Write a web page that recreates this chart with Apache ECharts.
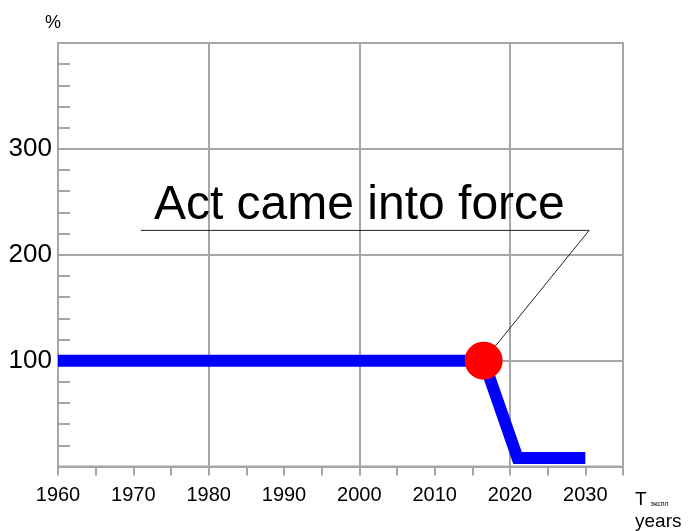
<!DOCTYPE html>
<html>
<head>
<meta charset="utf-8">
<script src="https://cdn.jsdelivr.net/npm/echarts@6/dist/echarts.min.js"></script>
<style>
html,body{margin:0;padding:0;background:#fff;}
#chart{width:688px;height:531px;}
</style>
</head>
<body>
<div id="chart"></div>
<script>
// ---- data ----
var years = [1960, 2016.5, 2021, 2030];
var percent = [100, 100, 8, 8];
var actYear = 2016.5;
var actValue = 100;
var annotationText = 'Act came into force';
var leaderX = [1971, 2030.5, 2016.5];
var leaderY = [223, 223, 100];
var textAnchor = [2000, 223];
var xTickLabels = [1960, 1970, 1980, 1990, 2000, 2010, 2020, 2030];
var yTickLabels = [100, 200, 300];

var FONT = '"Liberation Sans", Arial, sans-serif';
var GRID_COLOR = '#a6a6a6';

function zip(a, b) { return a.map(function (v, i) { return [v, b[i]]; }); }

var chart = echarts.init(document.getElementById('chart'), null, { renderer: 'canvas' });
chart.setOption({
  animation: false,
  backgroundColor: '#ffffff',
  grid: {
    left: 58, right: 65, top: 43, bottom: 63,
    show: true, borderColor: GRID_COLOR, borderWidth: 2, backgroundColor: 'transparent'
  },
  xAxis: [
    {
      type: 'value', min: 1960, max: 2035, interval: 5,
      axisLine: { show: true, onZero: false, lineStyle: { color: GRID_COLOR, width: 2 } },
      axisTick: { show: true, inside: false, length: 9, lineStyle: { color: GRID_COLOR, width: 2 } },
      splitLine: { show: false },
      axisLabel: {
        margin: 19, fontSize: 20, color: '#000', fontFamily: FONT,
        formatter: function (v) { return xTickLabels.indexOf(v) >= 0 ? String(v) : ''; }
      },
      name: '{t|T}{s|экспл}\n{y|years}',
      nameLocation: 'end', nameGap: 12,
      nameTextStyle: {
        verticalAlign: 'top', align: 'left', padding: [19, 0, 0, 0],
        rich: {
          t: { fontSize: 19, color: '#000', fontFamily: FONT, lineHeight: 24, verticalAlign: 'bottom' },
          s: { fontSize: 7, color: '#000', fontFamily: FONT, verticalAlign: 'bottom', padding: [0, 0, 2, 4] },
          y: { fontSize: 19, color: '#000', fontFamily: FONT, lineHeight: 24 }
        }
      }
    },
    {
      type: 'value', min: 1960, max: 2035, interval: 20,
      axisLine: { show: false }, axisTick: { show: false }, axisLabel: { show: false },
      splitLine: { show: true, lineStyle: { color: GRID_COLOR, width: 2 } }
    }
  ],
  yAxis: [
    {
      type: 'value', min: 0, max: 400, interval: 20,
      axisLine: { show: true, onZero: false, lineStyle: { color: GRID_COLOR, width: 2 } },
      axisTick: { show: true, inside: true, length: 12, lineStyle: { color: GRID_COLOR, width: 2 } },
      splitLine: { show: false },
      axisLabel: {
        margin: 6, fontSize: 26, color: '#000', fontFamily: FONT,
        formatter: function (v) { return yTickLabels.indexOf(v) >= 0 ? String(v) : ''; }
      },
      name: '%', nameLocation: 'end', nameGap: 11,
      nameTextStyle: { fontSize: 18, color: '#000', fontFamily: FONT, padding: [0, 10, 0, 0] }
    },
    {
      type: 'value', min: 0, max: 400, interval: 100,
      axisLine: { show: false }, axisTick: { show: false }, axisLabel: { show: false },
      splitLine: { show: true, lineStyle: { color: GRID_COLOR, width: 2 } }
    }
  ],
  series: [
    {
      type: 'line', name: 'leader', xAxisIndex: 0, yAxisIndex: 0, z: 3,
      data: zip(leaderX, leaderY), symbol: 'none', silent: true,
      lineStyle: { color: '#222', width: 1, opacity: 1 }
    },
    {
      type: 'line', name: 'share', xAxisIndex: 0, yAxisIndex: 0, z: 4,
      data: zip(years, percent), symbol: 'none',
      lineStyle: { color: '#0000ff', width: 12, join: 'miter', cap: 'butt', opacity: 1 }
    },
    {
      type: 'scatter', name: 'act', xAxisIndex: 0, yAxisIndex: 0, z: 5,
      data: [[actYear, actValue]], symbol: 'circle', symbolSize: 38,
      itemStyle: { color: '#ff0000', opacity: 1 }
    },
    {
      type: 'scatter', name: 'annotation', xAxisIndex: 0, yAxisIndex: 0, z: 6,
      data: [textAnchor], symbolSize: 0, silent: true,
      itemStyle: { opacity: 1 },
      label: {
        show: true, position: 'top', distance: 1,
        formatter: annotationText, fontSize: 48, color: '#000', opacity: 1,
        fontFamily: FONT, textBorderWidth: 0
      }
    }
  ]
});
</script>
</body>
</html>
